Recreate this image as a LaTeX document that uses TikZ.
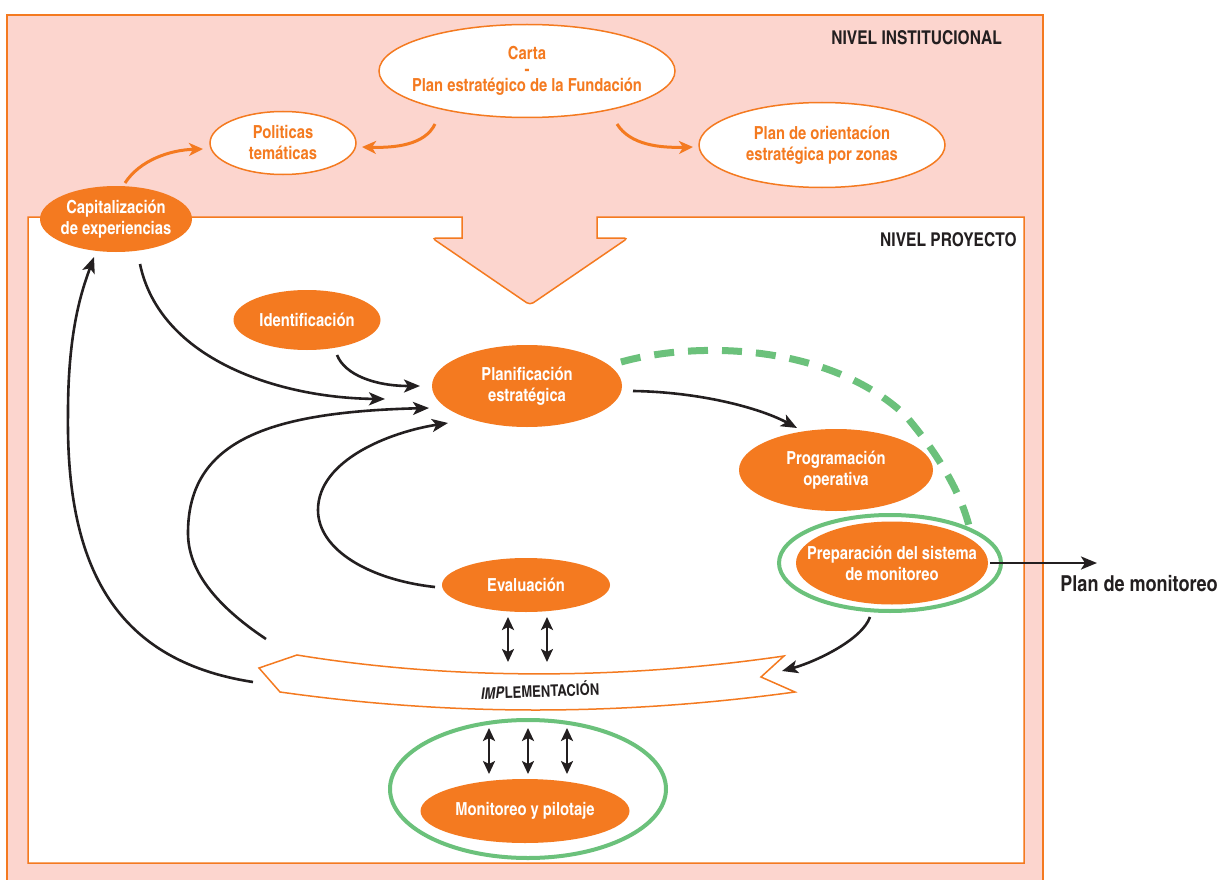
\documentclass[tikz,border=0pt]{standalone}
\usepackage{fontspec}
\setmainfont{texgyreheroscn}[Extension=.otf, UprightFont=*-regular, BoldFont=*-bold, ItalicFont=*-italic, BoldItalicFont=*-bolditalic]
\usetikzlibrary{arrows.meta, shapes.geometric, calc}
\definecolor{org}{HTML}{F47A20}
\definecolor{pinkbg}{HTML}{FCD5CE}
\definecolor{grn}{HTML}{6BC17B}
\definecolor{blk}{HTML}{231F20}
\begin{document}
\begin{tikzpicture}[x=1pt,y=-1pt,
  fillell/.style={ellipse, fill=org, inner sep=0pt},
  whiteell/.style={ellipse, fill=white, draw=org, line width=1.5pt, inner sep=0pt},
  ringell/.style={ellipse, draw=grn, line width=4pt, inner sep=0pt},
  wtxt/.style={text=white, font=\bfseries\fontsize{18}{21}\selectfont, align=center, inner sep=0pt},
  otxt/.style={text=org, font=\bfseries\fontsize{18}{21}\selectfont, align=center, inner sep=0pt},
  ktxt/.style={text=blk, font=\bfseries\fontsize{19}{21}\selectfont, inner sep=0pt},
  blkarr/.style={draw=blk, line width=2.6pt, -{Stealth[length=16pt,width=13pt,inset=4pt]}},
  orgarr/.style={draw=org, line width=3pt, -{Stealth[length=14pt,width=13pt,inset=4pt]}},
  dblarr/.style={draw=blk, line width=2.4pt, {Stealth[length=13pt,width=12pt,inset=3pt]}-{Stealth[length=13pt,width=12pt,inset=3pt]}},
  gdash/.style={draw=grn, line width=7pt, dash pattern=on 20pt off 14pt}
]
\useasboundingbox (0,0) rectangle (1221,880);
% outer institutional level
\fill[pinkbg] (7,15) rectangle (1043,895);
\draw[org, line width=1.5pt] (7,895) -- (7,15) -- (1043,15) -- (1043,895);
% inner project level with arrow notch
\draw[org, line width=1.5pt, fill=white] (28,217) -- (462,217) -- (462,238)
  {[rounded corners=4pt] -- (432,238) -- (530,305) -- (628,238)} -- (597,238) -- (597,217)
  -- (1024,217) -- (1024,863) -- (28,863) -- cycle;
\node[ktxt, anchor=east] (nivi) at (1002,38) {NIVEL INSTITUCIONAL};
\node[ktxt, anchor=east] (nivp) at (1017,240) {NIVEL PROYECTO};

% implementation band
\draw[org, line width=1.5pt, fill=white] (297,655) -- (259,668) -- (280,692)
  .. controls (450,716) and (620,716) .. (795,692) -- (761,677) -- (784,656)
  .. controls (620,680) and (450,680) .. cycle;
\node[font=\bfseries\fontsize{16}{18}\selectfont, text=blk, rotate=2, inner sep=0pt] (impl) at (540,690) {\textit{IMP}LEMENTACIÓN};

% rings
\node[ringell, minimum width=222pt, minimum height=96pt] (prepring) at (890,563) {};
\node[ringell, minimum width=276pt, minimum height=138pt] (moniring) at (528,789) {};

% institutional ellipses
\node[whiteell, minimum width=296pt, minimum height=93pt] (carta) at (527,71) {};
\node[otxt, font=\bfseries\fontsize{18}{16}\selectfont] at (carta) {Carta\\-\\Plan estratégico de la Fundación};
\node[whiteell, minimum width=146pt, minimum height=63pt] (poli) at (283,143) {};
\node[otxt] at (poli) {Politicas\\temáticas};
\node[whiteell, minimum width=246pt, minimum height=85pt] (orient) at (822,145) {};
\node[otxt] at (orient) {Plan de orientacíon\\estratégica por zonas};

% project ellipses
\node[fillell, minimum width=152pt, minimum height=66pt] (cap) at (116,219) {};
\node[wtxt] at (cap) {Capitalización\\de experiencias};
\node[fillell, minimum width=147pt, minimum height=60pt] (ident) at (307,320) {};
\node[wtxt] at (ident) {Identificación};
\node[fillell, minimum width=190pt, minimum height=82pt] (plan) at (527,386) {};
\node[wtxt] at (plan) {Planificación\\estratégica};
\node[fillell, minimum width=194pt, minimum height=82pt] (prog) at (836,470) {};
\node[wtxt] at (prog) {Programación\\operativa};
\node[fillell, minimum width=192pt, minimum height=83pt] (prep) at (892,563) {};
\node[wtxt] at (prep) {Preparación del sistema\\de monitoreo};
\node[fillell, minimum width=168pt, minimum height=54pt] (eval) at (526,585) {};
\node[wtxt] at (eval) {Evaluación};
\node[fillell, minimum width=209pt, minimum height=64pt] (moni) at (525,811) {};
\node[wtxt] at (moni) {Monitoreo y pilotaje};

\node[text=blk, font=\bfseries\fontsize{22}{24}\selectfont, inner sep=0pt] (pm) at (1139,584) {Plan de monitoreo};

% green dashed arc
\draw[gdash] ($(plan)+(94,-24)$) .. controls (700,340) and (830,345) .. (905,415)
  .. controls (935,450) and (960,490) .. ($(prep)+(77,-37)$);

% orange arrows
\draw[orgarr] ($(carta)+(-92,53)$) .. controls (425,145) and (395,148) .. ($(poli)+(79,4)$);
\draw[orgarr] ($(carta)+(90,53)$) .. controls (630,145) and (660,148) .. ($(orient)+(-129,2)$);
\draw[orgarr] ($(cap)+(9,-36)$) .. controls (140,160) and (170,150) .. ($(poli)+(-80,6)$);

% black arrows
\draw[blkarr] ($(cap)+(24,45)$) .. controls (160,360) and (280,398) .. ($(plan)+(-142,13)$);
\draw[blkarr] ($(ident)+(30,35)$) .. controls (345,375) and (375,386) .. ($(plan)+(-107,0)$);
\draw[blkarr] ($(impl)+(-274,-51)$) .. controls (215,605) and (188,570) .. (188,533)
  .. controls (188,440) and (270,412) .. ($(plan)+(-98,22)$);
\draw[blkarr] ($(eval)+(-91,2)$) .. controls (370,580) and (318,550) .. (318,510)
  .. controls (318,460) and (390,432) .. ($(plan)+(-79,37)$);
\draw[blkarr] ($(impl)+(-287,-8)$) .. controls (110,660) and (66,560) .. (68,413)
  .. controls (68,330) and (82,290) .. ($(cap)+(-22,38)$);
\draw[blkarr] ($(plan)+(106,5)$) .. controls (700,392) and (760,408) .. ($(prog)+(-39,-42)$);
\draw[blkarr] ($(prep)+(-22,54)$) .. controls (862,640) and (815,662) .. ($(impl)+(242,-19)$);
\draw[blkarr] ($(prep)+(98,0)$) -- ($(pm)+(-42,-21)$);

% double arrows
\draw[dblarr] ($(impl)+(-32,-73)$) -- ($(impl)+(-32,-28)$);
\draw[dblarr] ($(impl)+(7,-73)$) -- ($(impl)+(7,-28)$);
\draw[dblarr] ($(impl)+(-51,38)$) -- ($(moni)+(-36,-37)$);
\draw[dblarr] ($(impl)+(-12,38)$) -- ($(moni)+(3,-37)$);
\draw[dblarr] ($(impl)+(27,38)$) -- ($(moni)+(42,-37)$);
\end{tikzpicture}
\end{document}
